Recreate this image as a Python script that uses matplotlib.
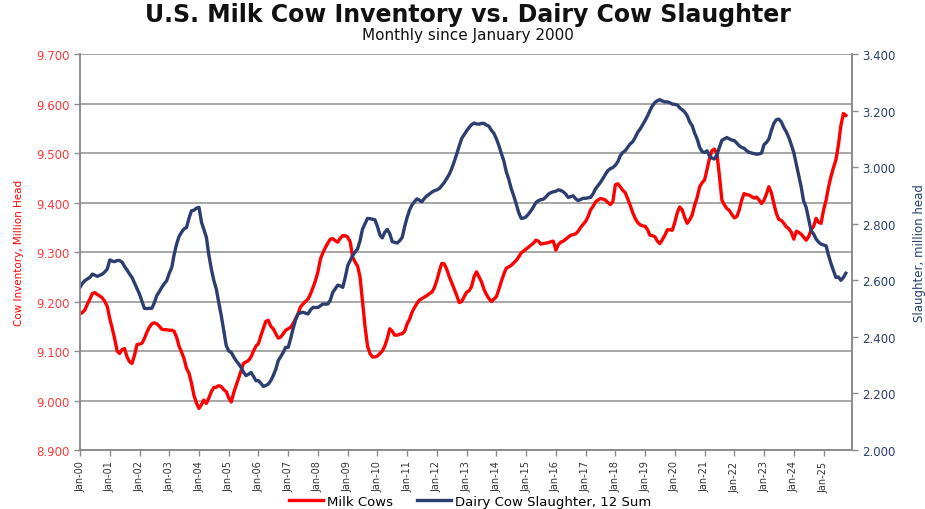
import matplotlib
matplotlib.use("Agg")
import matplotlib.pyplot as plt
import matplotlib.dates as mdates
import pandas as pd

# monthly values, Jan 2000 - Oct 2025 (one row per year)
milk_cows = [
    9.175, 9.178, 9.183, 9.195, 9.205, 9.216, 9.218, 9.214, 9.211, 9.207, 9.200, 9.190,
    9.165, 9.145, 9.125, 9.100, 9.095, 9.103, 9.105, 9.088, 9.078, 9.075, 9.092, 9.113,
    9.114, 9.116, 9.125, 9.138, 9.148, 9.155, 9.157, 9.155, 9.150, 9.144, 9.143, 9.143,
    9.142, 9.142, 9.140, 9.128, 9.110, 9.098, 9.085, 9.065, 9.055, 9.035, 9.010, 8.995,
    8.984, 8.992, 9.001, 8.994, 9.005, 9.018, 9.026, 9.027, 9.030, 9.028, 9.022, 9.018,
    9.005, 8.997, 9.015, 9.030, 9.045, 9.060, 9.075, 9.078, 9.081, 9.088, 9.100, 9.110,
    9.115, 9.132, 9.145, 9.160, 9.162, 9.150, 9.145, 9.135, 9.126, 9.128, 9.135, 9.142,
    9.145, 9.148, 9.155, 9.165, 9.175, 9.189, 9.195, 9.200, 9.205, 9.215, 9.228, 9.242,
    9.260, 9.286, 9.298, 9.309, 9.318, 9.326, 9.327, 9.323, 9.320, 9.328, 9.333, 9.333,
    9.330, 9.320, 9.290, 9.280, 9.272, 9.250, 9.200, 9.150, 9.110, 9.095, 9.088, 9.088,
    9.090, 9.095, 9.100, 9.110, 9.125, 9.145, 9.140, 9.132, 9.132, 9.134, 9.135, 9.140,
    9.155, 9.165, 9.178, 9.188, 9.196, 9.203, 9.206, 9.209, 9.212, 9.216, 9.219, 9.228,
    9.243, 9.262, 9.277, 9.276, 9.265, 9.250, 9.238, 9.225, 9.212, 9.198, 9.200, 9.210,
    9.219, 9.222, 9.230, 9.250, 9.260, 9.250, 9.240, 9.225, 9.214, 9.206, 9.200, 9.205,
    9.210, 9.225, 9.240, 9.255, 9.267, 9.270, 9.273, 9.278, 9.283, 9.290, 9.298, 9.302,
    9.306, 9.310, 9.314, 9.318, 9.324, 9.322, 9.316, 9.317, 9.318, 9.319, 9.321, 9.322,
    9.304, 9.315, 9.320, 9.322, 9.326, 9.330, 9.334, 9.335, 9.337, 9.342, 9.350, 9.356,
    9.362, 9.372, 9.385, 9.392, 9.401, 9.405, 9.408, 9.407, 9.405, 9.400, 9.396, 9.402,
    9.436, 9.438, 9.432, 9.425, 9.420, 9.408, 9.395, 9.380, 9.368, 9.360, 9.355, 9.353,
    9.352, 9.345, 9.334, 9.333, 9.331, 9.322, 9.317, 9.325, 9.334, 9.345, 9.345, 9.344,
    9.360, 9.380, 9.391, 9.385, 9.370, 9.358, 9.365, 9.375, 9.395, 9.410, 9.432, 9.440,
    9.446, 9.468, 9.489, 9.505, 9.508, 9.499, 9.455, 9.405, 9.395, 9.388, 9.384, 9.376,
    9.369, 9.372, 9.384, 9.405, 9.418, 9.416, 9.415, 9.412, 9.409, 9.411, 9.405, 9.398,
    9.405, 9.418, 9.432, 9.420, 9.398, 9.378, 9.366, 9.364, 9.358, 9.351, 9.347, 9.340,
    9.326, 9.342, 9.340, 9.336, 9.330, 9.324, 9.331, 9.345, 9.352, 9.368, 9.360, 9.358,
    9.385, 9.405, 9.430, 9.452, 9.470, 9.486, 9.515, 9.555, 9.580, 9.576,
]

slaughter = [
    2.575, 2.590, 2.599, 2.605, 2.610, 2.622, 2.618, 2.614, 2.618, 2.622, 2.630, 2.640,
    2.672, 2.668, 2.666, 2.670, 2.670, 2.664, 2.649, 2.636, 2.622, 2.610, 2.590, 2.570,
    2.551, 2.525, 2.501, 2.500, 2.501, 2.501, 2.520, 2.546, 2.560, 2.575, 2.588, 2.599,
    2.625, 2.646, 2.690, 2.728, 2.755, 2.770, 2.782, 2.787, 2.820, 2.846, 2.848, 2.855,
    2.858, 2.805, 2.780, 2.752, 2.690, 2.640, 2.600, 2.569, 2.520, 2.475, 2.420, 2.369,
    2.350, 2.345, 2.330, 2.316, 2.305, 2.292, 2.275, 2.263, 2.268, 2.274, 2.260, 2.245,
    2.245, 2.235, 2.225, 2.228, 2.233, 2.245, 2.263, 2.285, 2.316, 2.330, 2.345, 2.363,
    2.363, 2.395, 2.428, 2.460, 2.481, 2.485, 2.487, 2.484, 2.481, 2.495, 2.504, 2.504,
    2.504, 2.510, 2.516, 2.516, 2.516, 2.530, 2.557, 2.570, 2.583, 2.580, 2.575, 2.610,
    2.652, 2.670, 2.687, 2.700, 2.711, 2.740, 2.781, 2.800, 2.819, 2.818, 2.816, 2.814,
    2.790, 2.760, 2.750, 2.770, 2.780, 2.765, 2.737, 2.734, 2.732, 2.740, 2.752, 2.790,
    2.823, 2.850, 2.866, 2.878, 2.888, 2.883, 2.878, 2.890, 2.899, 2.905, 2.912, 2.917,
    2.920, 2.925, 2.935, 2.946, 2.960, 2.975, 2.995, 3.020, 3.047, 3.075, 3.102, 3.115,
    3.129, 3.141, 3.150, 3.156, 3.153, 3.152, 3.155, 3.155, 3.149, 3.145, 3.130, 3.120,
    3.100, 3.076, 3.050, 3.023, 2.985, 2.958, 2.925, 2.899, 2.870, 2.840, 2.819, 2.820,
    2.825, 2.835, 2.846, 2.860, 2.875, 2.882, 2.885, 2.887, 2.895, 2.905, 2.910, 2.913,
    2.915, 2.920, 2.918, 2.913, 2.905, 2.893, 2.896, 2.899, 2.888, 2.882, 2.886, 2.890,
    2.890, 2.892, 2.893, 2.905, 2.923, 2.935, 2.946, 2.960, 2.975, 2.988, 2.995, 2.999,
    3.007, 3.020, 3.040, 3.052, 3.058, 3.070, 3.082, 3.090, 3.105, 3.123, 3.135, 3.150,
    3.165, 3.182, 3.200, 3.217, 3.229, 3.235, 3.239, 3.234, 3.231, 3.231, 3.228, 3.223,
    3.222, 3.220, 3.210, 3.203, 3.195, 3.182, 3.160, 3.147, 3.120, 3.100, 3.070, 3.055,
    3.052, 3.058, 3.040, 3.032, 3.029, 3.043, 3.070, 3.095, 3.100, 3.105, 3.100, 3.096,
    3.094, 3.085, 3.076, 3.070, 3.067, 3.058, 3.053, 3.050, 3.048, 3.046, 3.047, 3.050,
    3.080, 3.088, 3.100, 3.130, 3.155, 3.168, 3.170, 3.160, 3.140, 3.125, 3.105, 3.080,
    3.052, 3.010, 2.970, 2.930, 2.880, 2.858, 2.817, 2.775, 2.764, 2.746, 2.735, 2.728,
    2.725, 2.722, 2.690, 2.660, 2.635, 2.610, 2.612, 2.600, 2.610, 2.625,
]

left_ticks = [8.9, 9.0, 9.1, 9.2, 9.3, 9.4, 9.5, 9.6, 9.7]
right_ticks = [2.0, 2.2, 2.4, 2.6, 2.8, 3.0, 3.2, 3.4]

RED = "#ff0000"
NAVY = "#2c3e70"
GRID = "#a6a6a6"

dates = pd.date_range("2000-01-01", periods=len(milk_cows), freq="MS")

fig = plt.figure(figsize=(9.25, 5.1), dpi=100)
ax = fig.add_axes([0.0865, 0.1157, 0.8345, 0.7763])
ax2 = ax.twinx()

l1, = ax.plot(dates, milk_cows, color=RED, lw=2.4, label="Milk Cows")
l2, = ax2.plot(dates, slaughter, color=NAVY, lw=2.4, label="Dairy Cow Slaughter, 12 Sum")

ax.set_ylim(8.9, 9.7)
ax.set_yticks(left_ticks)
ax.set_yticklabels([f"{v:.3f}" for v in left_ticks], fontsize=8.5)
ax2.set_ylim(2.0, 3.4)
ax2.set_yticks(right_ticks)
ax2.set_yticklabels([f"{v:.3f}" for v in right_ticks], fontsize=8.5)

ax.set_xlim(pd.Timestamp("2000-01-01"), pd.Timestamp("2025-12-15"))
ax.xaxis.set_major_locator(mdates.YearLocator(1, month=1, day=1))
ax.xaxis.set_major_formatter(mdates.DateFormatter("%b-%y"))
for lab in ax.get_xticklabels():
    lab.set_rotation(90)
    lab.set_fontsize(7)

ax.grid(axis="y", color=GRID, lw=1.4)
ax.set_axisbelow(True)
for a in (ax, ax2):
    a.spines["top"].set_visible(False)
    for s in ("left", "right", "bottom"):
        a.spines[s].set_color("#8c8c8c")
        a.spines[s].set_linewidth(1.2)
    a.tick_params(colors="#8c8c8c", length=4, width=1)
for lab in ax.get_yticklabels():
    lab.set_color("#ff3b3b")
for lab in ax2.get_yticklabels():
    lab.set_color(NAVY)
for lab in ax.get_xticklabels():
    lab.set_color("#333333")

ax.set_ylabel("Cow Inventory, Million Head", color=RED, fontsize=7.5, labelpad=9)
ax2.set_ylabel("Slaughter, million head", color=NAVY, fontsize=8.5, labelpad=12)

fig.text(0.506, 0.971, "U.S. Milk Cow Inventory vs. Dairy Cow Slaughter",
         ha="center", va="center", fontsize=17, fontweight="bold", color="#111111")
fig.text(0.506, 0.930, "Monthly since January 2000", ha="center", va="center",
         fontsize=11, color="#111111")

fig.legend([l1, l2], [l1.get_label(), l2.get_label()], loc="center",
           bbox_to_anchor=(0.508, 0.015), ncol=2, frameon=False, fontsize=9.5,
           handlelength=2.6, columnspacing=1.8, handletextpad=0.3)

fig.savefig("out.png", dpi=100)
